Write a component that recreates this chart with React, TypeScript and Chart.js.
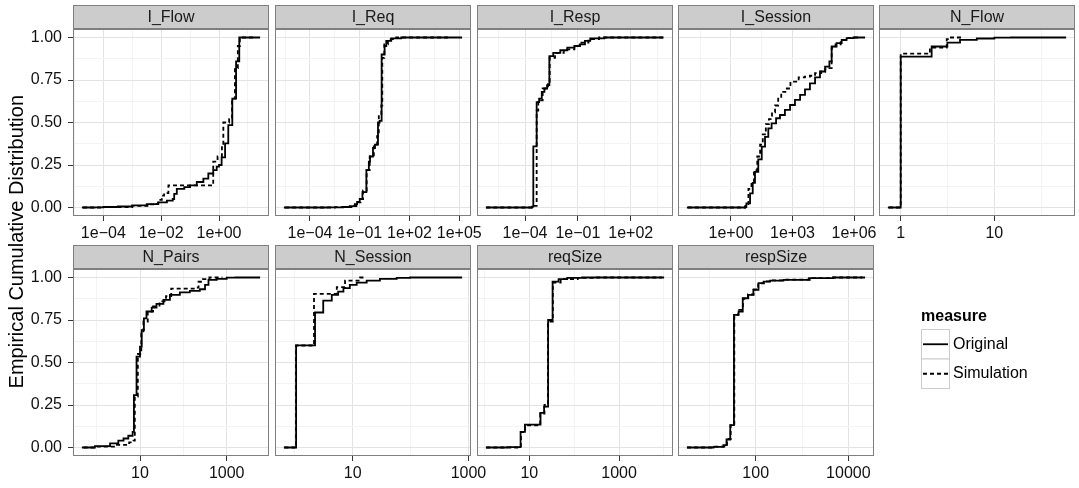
import React, { useEffect, useRef } from 'react';
import { Chart, registerables } from 'chart.js';

Chart.register(...registerables);

const FONT = '"Liberation Sans", Arial, Helvetica, sans-serif';
const W = 1079;
const H = 488;

// ---------------- data (x in original units, y = empirical CDF) ----------------
const iFlowOrigX = [1.82e-5, 5e-5, 1e-4, 3.16e-4, 1e-3, 3.16e-3, 7.9e-3, 0.0158, 0.0251, 0.0282, 0.0347, 0.0631, 0.1, 0.17, 0.288, 0.427, 0.631, 0.832, 1.0, 1.23, 1.62, 2.09, 2.88, 3.89, 5.01, 26.3];
const iFlowOrigY = [0, 0.001, 0.003, 0.006, 0.012, 0.02, 0.03, 0.04, 0.05, 0.08, 0.11, 0.12, 0.13, 0.15, 0.17, 0.2, 0.22, 0.24, 0.25, 0.295, 0.377, 0.485, 0.64, 0.86, 1.0, 1.0];
const iFlowSimX = [2e-5, 1e-4, 1e-3, 3.98e-3, 7.08e-3, 7.94e-3, 0.0105, 0.0126, 0.0178, 0.631, 0.891, 1.26, 1.41, 2.24, 2.82, 3.55, 4.47, 5.25, 15.8];
const iFlowSimY = [0, 0.003, 0.01, 0.018, 0.02, 0.045, 0.07, 0.085, 0.13, 0.27, 0.3, 0.36, 0.5, 0.52, 0.64, 0.82, 0.95, 1.0, 1.0];

const iReqOrigX = [2.69e-6, 1e-3, 0.01, 0.0251, 0.0501, 0.0692, 0.1, 0.145, 0.251, 0.355, 0.417, 0.631, 0.832, 1.26, 1.58, 2.09, 3.16, 3.98, 7.94, 31.6, 1.48e5];
const iReqOrigY = [0, 0.001, 0.003, 0.008, 0.02, 0.033, 0.05, 0.09, 0.22, 0.27, 0.3, 0.35, 0.37, 0.5, 0.51, 0.9, 0.95, 0.98, 0.995, 1.0, 1.0];
const iReqSimX = [3.16e-6, 3.16e-3, 0.0316, 0.0631, 0.112, 0.158, 0.263, 0.398, 0.708, 1.12, 1.41, 2.0, 2.29, 3.02, 5.01, 15.8, 3.16e4];
const iReqSimY = [0, 0.002, 0.008, 0.03, 0.05, 0.1, 0.22, 0.3, 0.36, 0.42, 0.55, 0.6, 0.88, 0.96, 0.99, 1.0, 1.0];

const iRespOrigX = [6.03e-7, 2.51e-4, 2.95e-4, 4.57e-4, 6.31e-4, 8.91e-4, 1.26e-3, 1.78e-3, 2.4e-3, 3.98e-3, 0.01, 0.0251, 0.0631, 0.126, 0.251, 0.501, 3.16, 7079];
const iRespOrigY = [0, 0.005, 0.36, 0.62, 0.64, 0.68, 0.7, 0.72, 0.89, 0.91, 0.925, 0.94, 0.95, 0.96, 0.98, 0.995, 1.0, 1.0];
const iRespSimX = [6.31e-7, 3.16e-4, 4.57e-4, 5.62e-4, 1e-3, 2e-3, 2.51e-3, 5.01e-3, 0.0158, 0.0631, 0.158, 0.398, 1.58, 7762];
const iRespSimY = [0, 0.01, 0.57, 0.63, 0.7, 0.74, 0.88, 0.91, 0.93, 0.95, 0.97, 0.99, 1.0, 1.0];

const iSessionOrigX = [7.08e-3, 4.79, 5.62, 8.51, 11.5, 14.8, 21.4, 31.6, 45.7, 66.1, 95.5, 158, 245, 427, 759, 1318, 2344, 4074, 7079, 12590, 21880, 38900, 63100, 81300, 141000, 251000, 437000, 933000, 3.47e6];
const iSessionOrigY = [0, 0.003, 0.024, 0.083, 0.145, 0.21, 0.283, 0.358, 0.416, 0.466, 0.495, 0.525, 0.544, 0.574, 0.603, 0.633, 0.662, 0.695, 0.73, 0.766, 0.8, 0.829, 0.859, 0.947, 0.967, 0.986, 0.996, 1.0, 1.0];
const iSessionSimX = [7.94e-3, 5.01, 7.08, 10, 13.2, 19.1, 26.3, 35.5, 50.1, 70.8, 100, 141, 200, 282, 447, 794, 1995, 3981, 7079, 12590, 25120, 39810, 56230, 81300, 125900, 223900, 398100, 794300, 2e6];
const iSessionSimY = [0, 0.01, 0.11, 0.15, 0.22, 0.3, 0.37, 0.43, 0.49, 0.52, 0.56, 0.6, 0.64, 0.68, 0.7, 0.74, 0.765, 0.77, 0.775, 0.79, 0.8, 0.815, 0.82, 0.94, 0.96, 0.985, 0.997, 1.0, 1.0];

const nFlowOrigX = [0.73, 1, 2.14, 3.15, 4.3, 6.5, 10, 15, 58.4];
const nFlowOrigY = [0, 0.888, 0.947, 0.97, 0.986, 0.994, 0.999, 1.0, 1.0];
const nFlowSimX = [0.75, 1, 2.05, 3.1, 3.3, 4.5];
const nFlowSimY = [0, 0.905, 0.94, 0.99, 1.0, 1.0];

const nPairsOrigX = [0.457, 0.91, 2.04, 3.16, 4.17, 5.37, 6.76, 7.24, 8.32, 10, 10.96, 12.3, 14.1, 18.6, 24, 34.7, 49, 83, 141, 240, 316, 380, 589, 1000, 1585, 5890];
const nPairsOrigY = [0, 0.008, 0.024, 0.04, 0.053, 0.069, 0.092, 0.308, 0.534, 0.593, 0.69, 0.76, 0.8, 0.823, 0.845, 0.868, 0.898, 0.912, 0.921, 0.931, 0.957, 0.986, 0.992, 0.999, 1.0, 1.0];
const nPairsSimX = [0.501, 1, 2.51, 5.62, 7.08, 7.59, 8.91, 10.7, 12.0, 15.1, 20, 28.2, 39.8, 52.5, 200, 224, 282, 398, 794];
const nPairsSimY = [0, 0.005, 0.015, 0.03, 0.04, 0.3, 0.55, 0.67, 0.74, 0.8, 0.83, 0.86, 0.89, 0.935, 0.94, 0.975, 0.99, 1.0, 1.0];

const nSessionOrigX = [0.646, 1.05, 2.23, 3.09, 4.34, 5.6, 6.9, 8.9, 11.7, 17.4, 29.5, 57.5, 98, 776];
const nSessionOrigY = [0, 0.601, 0.794, 0.864, 0.898, 0.917, 0.937, 0.957, 0.97, 0.982, 0.992, 0.998, 1.0, 1.0];
const nSessionSimX = [0.66, 1.05, 2.14, 5.3, 7.36, 13.4, 16];
const nSessionSimY = [0, 0.6, 0.904, 0.943, 0.982, 1.0, 1.0];

const reqSizeOrigX = [1.08, 3.16, 6.3, 6.4, 8.0, 17.8, 21.4, 26.3, 33.1, 45, 70, 150, 10100];
const reqSizeOrigY = [0, 0.002, 0.003, 0.092, 0.135, 0.204, 0.24, 0.75, 0.976, 0.99, 0.998, 1.0, 1.0];
const reqSizeSimX = [1.1, 6.5, 8.1, 17.5, 21.8, 26.0, 33.5, 50, 120, 300, 9000];
const reqSizeSimY = [0, 0.09, 0.13, 0.2, 0.25, 0.74, 0.97, 0.99, 0.998, 1.0, 1.0];

const respSizeOrigX = [3.27, 12.3, 20, 23.4, 28.2, 33.9, 42.7, 52.5, 69.2, 89, 115, 148, 204, 398, 1413, 4786, 23000];
const respSizeOrigY = [0, 0.004, 0.014, 0.047, 0.132, 0.78, 0.8, 0.878, 0.898, 0.927, 0.967, 0.976, 0.982, 0.986, 0.996, 1.0, 1.0];
const respSizeSimX = [3.3, 12, 21, 24, 28.8, 34.5, 42, 53, 68, 90, 113, 150, 210, 420, 1500, 4000, 20000];
const respSizeSimY = [0, 0.005, 0.015, 0.05, 0.13, 0.78, 0.81, 0.875, 0.9, 0.93, 0.965, 0.977, 0.983, 0.987, 0.996, 1.0, 1.0];

// ---------------- tick breaks and labels ----------------
const M = '\u2212';
const iFlowBreaks = [1e-4, 1e-2, 1];
const iFlowLabels = [`1e${M}04`, `1e${M}02`, '1e+00'];
const iReqBreaks = [1e-4, 1e-1, 1e2, 1e5];
const iReqLabels = [`1e${M}04`, `1e${M}01`, '1e+02', '1e+05'];
const iRespBreaks = [1e-4, 1e-1, 1e2];
const iRespLabels = [`1e${M}04`, `1e${M}01`, '1e+02'];
const iSessionBreaks = [1, 1e3, 1e6];
const iSessionLabels = ['1e+00', '1e+03', '1e+06'];
const nFlowBreaks = [1, 10];
const nFlowLabels = ['1', '10'];
const nPairsBreaks = [10, 1000];
const nPairsLabels = ['10', '1000'];
const nSessionBreaks = [10, 1000];
const nSessionLabels = ['10', '1000'];
const reqSizeBreaks = [10, 1000];
const reqSizeLabels = ['10', '1000'];
const respSizeBreaks = [100, 10000];
const respSizeLabels = ['100', '10000'];

const yBreaks = [0, 0.25, 0.5, 0.75, 1];
const yLabels = ['0.00', '0.25', '0.50', '0.75', '1.00'];

const seriesNames = ['Original', 'Simulation'];
const legendTitle = 'measure';
const yTitle = 'Empirical Cumulative Distribution';

type PanelDef = {
  name: string;
  ox: number[]; oy: number[]; sx: number[]; sy: number[];
  breaks: number[]; labels: string[];
};

const panels: PanelDef[] = [
  { name: 'I_Flow', ox: iFlowOrigX, oy: iFlowOrigY, sx: iFlowSimX, sy: iFlowSimY, breaks: iFlowBreaks, labels: iFlowLabels },
  { name: 'I_Req', ox: iReqOrigX, oy: iReqOrigY, sx: iReqSimX, sy: iReqSimY, breaks: iReqBreaks, labels: iReqLabels },
  { name: 'I_Resp', ox: iRespOrigX, oy: iRespOrigY, sx: iRespSimX, sy: iRespSimY, breaks: iRespBreaks, labels: iRespLabels },
  { name: 'I_Session', ox: iSessionOrigX, oy: iSessionOrigY, sx: iSessionSimX, sy: iSessionSimY, breaks: iSessionBreaks, labels: iSessionLabels },
  { name: 'N_Flow', ox: nFlowOrigX, oy: nFlowOrigY, sx: nFlowSimX, sy: nFlowSimY, breaks: nFlowBreaks, labels: nFlowLabels },
  { name: 'N_Pairs', ox: nPairsOrigX, oy: nPairsOrigY, sx: nPairsSimX, sy: nPairsSimY, breaks: nPairsBreaks, labels: nPairsLabels },
  { name: 'N_Session', ox: nSessionOrigX, oy: nSessionOrigY, sx: nSessionSimX, sy: nSessionSimY, breaks: nSessionBreaks, labels: nSessionLabels },
  { name: 'reqSize', ox: reqSizeOrigX, oy: reqSizeOrigY, sx: reqSizeSimX, sy: reqSizeSimY, breaks: reqSizeBreaks, labels: reqSizeLabels },
  { name: 'respSize', ox: respSizeOrigX, oy: respSizeOrigY, sx: respSizeSimX, sy: respSizeSimY, breaks: respSizeBreaks, labels: respSizeLabels },
];

// ---------------- layout ----------------
const plotLefts = [73, 275, 477, 678, 879];
const plotWidth = 196;
const plotTops = [29, 269];
const plotHeight = 187;
const stripHeight = 24;
const yAxisWidth = 60;
const xAxisHeight = 30;

const GRID_MAJOR = '#e3e3e3';
const GRID_MINOR = '#f3f3f3';
const BORDER = '#7f7f7f';
const TEXT = '#111111';
const LINE_W = 1.8;
const DASH = [4, 3];

const pts = (xs: number[], ys: number[]) => xs.map((x, i) => ({ x, y: ys[i] }));

function logLimits(p: PanelDef) {
  const all = p.ox.concat(p.sx).map((v) => Math.log10(v));
  const lo = Math.min(...all);
  const hi = Math.max(...all);
  const e = (hi - lo) * 0.05;
  return [lo - e, hi + e];
}

function minorLogBreaks(majors: number[], lo: number, hi: number) {
  const m = majors.map((v) => Math.log10(v));
  const step = m.length > 1 ? m[1] - m[0] : 1;
  const res: number[] = [];
  for (let i = 0; i < m.length - 1; i++) res.push((m[i] + m[i + 1]) / 2);
  res.push(m[0] - step / 2);
  res.push(m[m.length - 1] + step / 2);
  return res.filter((v) => v > lo && v < hi).map((v) => Math.pow(10, v));
}

const yMinor = [0.125, 0.375, 0.625, 0.875];

const decorPlugin = {
  id: 'decor',
  afterDraw(chart: any, _args: any, opts: any) {
    const { ctx, chartArea: a } = chart;
    const l = Math.round(a.left), t = Math.round(a.top), r = Math.round(a.right), b = Math.round(a.bottom);
    ctx.save();
    ctx.lineWidth = 1;
    ctx.strokeStyle = BORDER;
    ctx.setLineDash([]);
    ctx.strokeRect(l + 0.5, t + 0.5, r - l - 1, b - t - 1);
    ctx.fillStyle = '#cccccc';
    ctx.fillRect(l, t - stripHeight, r - l, stripHeight);
    ctx.strokeRect(l + 0.5, t - stripHeight + 0.5, r - l - 1, stripHeight - 1);
    ctx.fillStyle = '#1a1a1a';
    ctx.font = `16px ${FONT}`;
    ctx.textAlign = 'center';
    ctx.textBaseline = 'middle';
    ctx.fillText(opts.title, (l + r) / 2, t - stripHeight / 2 + 1);
    ctx.restore();
  },
};

const overlayPlugin = {
  id: 'overlay',
  afterDraw(chart: any) {
    const { ctx } = chart;
    ctx.save();
    // y-axis title
    ctx.translate(17.5, 241.7);
    ctx.rotate(-Math.PI / 2);
    ctx.fillStyle = '#000';
    ctx.font = `20px ${FONT}`;
    ctx.textAlign = 'center';
    ctx.textBaseline = 'middle';
    ctx.fillText(yTitle, 0, 0);
    ctx.restore();

    // legend
    ctx.save();
    ctx.fillStyle = '#000';
    ctx.font = `bold 16px ${FONT}`;
    ctx.textAlign = 'left';
    ctx.textBaseline = 'middle';
    ctx.fillText(legendTitle, 921, 317);
    seriesNames.forEach((name, i) => {
      const y0 = 329.5 + i * 29.5;
      ctx.fillStyle = '#fff';
      ctx.fillRect(921, y0, 28.5, 29.5);
      ctx.strokeStyle = '#cccccc';
      ctx.lineWidth = 1;
      ctx.setLineDash([]);
      ctx.strokeRect(921.5, y0, 28, 29.5);
      ctx.beginPath();
      ctx.strokeStyle = '#000';
      ctx.lineWidth = LINE_W;
      ctx.setLineDash(i === 1 ? DASH : []);
      ctx.moveTo(923, y0 + 14.75);
      ctx.lineTo(948, y0 + 14.75);
      ctx.stroke();
      ctx.setLineDash([]);
      ctx.fillStyle = '#000';
      ctx.font = `16px ${FONT}`;
      ctx.fillText(name, 953, y0 + 14.75);
    });
    ctx.restore();
  },
};

function buildConfig(index: number): any {
  const p = panels[index];
  const col = index % 5;
  const row = Math.floor(index / 5);
  const left = plotLefts[col];
  const top = plotTops[row];
  const [lo, hi] = logLimits(p);
  const minors = minorLogBreaks(p.breaks, lo, hi);
  const xTicks = p.breaks.concat(minors).sort((a, b) => a - b);
  const isMajorX = (v: number) => p.breaks.some((b) => Math.abs(Math.log10(b) - Math.log10(v)) < 1e-6);
  const yTicks = yBreaks.concat(yMinor).sort((a, b) => a - b);
  const isMajorY = (v: number) => yBreaks.some((b) => Math.abs(b - v) < 1e-9);
  const firstCol = col === 0;

  return {
    type: 'line',
    data: {
      datasets: [
        {
          label: seriesNames[0],
          data: pts(p.ox, p.oy),
          borderColor: '#000',
          borderWidth: LINE_W,
          stepped: true,
          pointRadius: 0,
          fill: false,
        },
        {
          label: seriesNames[1],
          data: pts(p.sx, p.sy),
          borderColor: '#000',
          borderWidth: LINE_W,
          borderDash: DASH,
          stepped: true,
          pointRadius: 0,
          fill: false,
        },
      ],
    },
    options: {
      responsive: false,
      maintainAspectRatio: false,
      animation: false,
      events: [],
      layout: {
        padding: {
          left: left - (firstCol ? yAxisWidth : 0),
          top: top,
          right: W - (left + plotWidth),
          bottom: H - (top + plotHeight) - xAxisHeight,
        },
      },
      plugins: {
        legend: { display: false },
        tooltip: { enabled: false },
        decor: { title: p.name },
      },
      scales: {
        x: {
          type: 'logarithmic',
          position: 'bottom',
          min: Math.pow(10, lo),
          max: Math.pow(10, hi),
          bounds: 'data',
          afterBuildTicks: (s: any) => {
            s.ticks = xTicks.map((v) => ({ value: v }));
          },
          afterFit: (s: any) => {
            s.height = xAxisHeight;
          },
          ticks: {
            autoSkip: false,
            maxRotation: 0,
            minRotation: 0,
            padding: 3,
            color: TEXT,
            font: { family: FONT, size: 16 },
            callback: (v: number) => {
              const i = p.breaks.findIndex((b) => Math.abs(Math.log10(b) - Math.log10(v)) < 1e-6);
              return i >= 0 ? p.labels[i] : '';
            },
          },
          grid: {
            color: (c: any) => (isMajorX(c.tick.value) ? GRID_MAJOR : GRID_MINOR),
            lineWidth: 1,
            drawTicks: true,
            tickLength: 5,
            tickWidth: 1,
            tickColor: (c: any) => (isMajorX(c.tick.value) ? '#333333' : 'rgba(0,0,0,0)'),
          },
          border: { display: false },
        },
        y: {
          type: 'linear',
          position: 'left',
          min: -0.05,
          max: 1.05,
          bounds: 'data',
          afterBuildTicks: (s: any) => {
            s.ticks = yTicks.map((v) => ({ value: v }));
          },
          afterFit: (s: any) => {
            s.width = firstCol ? yAxisWidth : 0;
          },
          ticks: {
            display: firstCol,
            autoSkip: false,
            padding: 6,
            color: TEXT,
            font: { family: FONT, size: 16 },
            callback: (v: number) => {
              const i = yBreaks.findIndex((b) => Math.abs(b - v) < 1e-9);
              return i >= 0 ? yLabels[i] : '';
            },
          },
          grid: {
            color: (c: any) => (isMajorY(c.tick.value) ? GRID_MAJOR : GRID_MINOR),
            lineWidth: 1,
            drawTicks: firstCol,
            tickLength: 5,
            tickWidth: 1,
            tickColor: (c: any) => (isMajorY(c.tick.value) ? '#333333' : 'rgba(0,0,0,0)'),
          },
          border: { display: false },
        },
      },
    },
    plugins: index === 0 ? [decorPlugin, overlayPlugin] : [decorPlugin],
  };
}

function Panel({ index }: { index: number }) {
  const ref = useRef<HTMLCanvasElement | null>(null);
  useEffect(() => {
    if (!ref.current) return;
    const chart = new Chart(ref.current, buildConfig(index));
    return () => chart.destroy();
  }, [index]);
  return (
    <canvas
      ref={ref}
      width={W}
      height={H}
      style={{ position: 'absolute', left: 0, top: 0, width: W, height: H }}
    />
  );
}

export default function App() {
  return (
    <div style={{ position: 'absolute', left: 0, top: 0, width: W, height: H, background: '#ffffff' }}>
      {panels.map((p, i) => (
        <Panel key={p.name} index={i} />
      ))}
    </div>
  );
}
